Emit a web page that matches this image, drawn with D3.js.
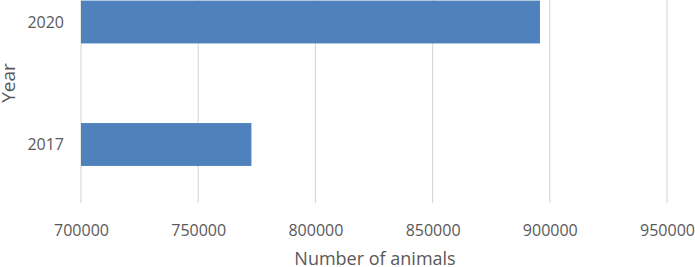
<!DOCTYPE html>
<html><head><meta charset="utf-8">
<script src="https://cdn.jsdelivr.net/npm/d3@7"></script>
<style>body{margin:0;background:#fff}svg{display:block}</style>
</head><body>
<script>
const categories = ["2017", "2020"];
const values = [772700, 895800];
const xTicks = [700000, 750000, 800000, 850000, 900000, 950000];
const xTitle = "Number of animals";
const yTitle = "Year";

const W = 695, H = 267;
const svg = d3.select("body").append("svg").attr("width", W).attr("height", H);
const font = "'Open Sans', sans-serif";
const x = d3.scaleLinear().domain([700000, 950000]).range([81, 667]);
const y = d3.scaleBand().domain(categories).range([205.75, -39.25]).paddingInner(0.65).paddingOuter(0.325);
const plotTop = 0, plotBottom = 203;

// gridlines
svg.append("g").selectAll("line").data(xTicks).join("line")
  .attr("x1", d => x(d)).attr("x2", d => x(d))
  .attr("y1", plotTop).attr("y2", plotBottom)
  .attr("stroke", "#d9d9d9").attr("stroke-width", 1.2);

// bars
svg.append("g").selectAll("rect").data(categories).join("rect")
  .attr("x", x(700000))
  .attr("y", d => Math.max(0, y(d)))
  .attr("height", d => y.bandwidth() - (Math.max(0, y(d)) - y(d)))
  .attr("width", (d, i) => x(values[i]) - x(700000))
  .attr("fill", "#4f81bd");

// x axis labels
const xAxis = d3.axisBottom(x).tickValues(xTicks).tickSize(0).tickPadding(0).tickFormat(d3.format("d"));
const gx = svg.append("g").attr("transform", `translate(0,${plotBottom})`).call(xAxis);
gx.select(".domain").remove();
gx.selectAll("text").attr("font-family", font).attr("font-size", 16).attr("fill", "#595959").attr("dy", null).attr("y", 33);

// y axis labels
const yAxis = d3.axisLeft(y).tickSize(0).tickPadding(0);
const gy = svg.append("g").attr("transform", `translate(64,0)`).call(yAxis);
gy.select(".domain").remove();
gy.selectAll("text").attr("font-family", font).attr("font-size", 16).attr("fill", "#595959").attr("x", 0).attr("dy", "0.35em");

// titles
svg.append("text").attr("x", 375).attr("y", 265).attr("text-anchor", "middle")
  .attr("font-family", font).attr("font-size", 18).attr("fill", "#595959").text(xTitle);
svg.append("text").attr("transform", "translate(15,83) rotate(-90)").attr("text-anchor", "middle")
  .attr("font-family", font).attr("font-size", 19).attr("fill", "#595959").text(yTitle);
</script>
</body></html>
